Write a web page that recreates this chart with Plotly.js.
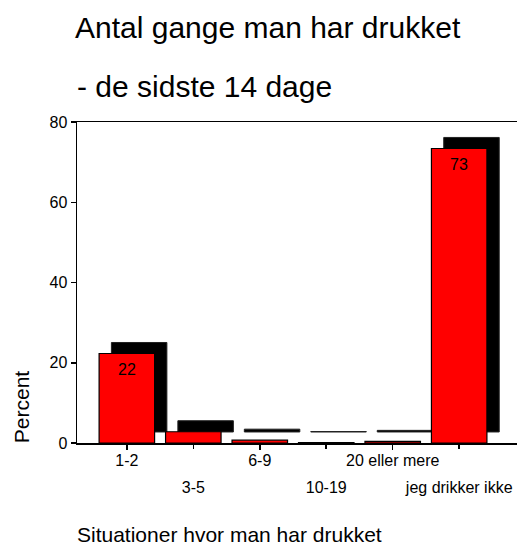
<!DOCTYPE html>
<html>
<head>
<meta charset="utf-8">
<script src="https://cdn.plot.ly/plotly-3.0.1.min.js"></script>
<style>html,body{margin:0;padding:0;background:#fff;}#chart{width:517px;height:546px;}</style>
</head>
<body>
<div id="chart"></div>
<script>
const categories = ['1-2', '3-5', '6-9', '10-19', '20 eller mere', 'jeg drikker ikke'];
const percent = [22.3, 2.8, 0.7, 0.1, 0.4, 73.4];
const yTicks = [0, 20, 40, 60, 80];
const titleLine1 = 'Antal gange man har drukket';
const titleLine2 = '- de sidste 14 dage';
const xTitle = 'Situationer hvor man har drukket';
const yTitle = 'Percent';

const xIdx = categories.map((c, i) => i);
const row1 = xIdx.filter(i => i % 2 === 0);
const row2 = xIdx.filter(i => i % 2 === 1);
const FONT = 'Liberation Sans, Arial, sans-serif';
const BW = 0.835, SHIFT = 0.185, DEPTH = 2.75;

const shadow = {
  type: 'bar', x: xIdx, y: percent, base: DEPTH,
  width: BW, offset: -BW / 2 + SHIFT,
  marker: {color: '#000', line: {color: '#222', width: 1}},
  hoverinfo: 'skip', showlegend: false
};
const bars = {
  type: 'bar', x: xIdx, y: percent,
  width: BW, offset: -BW / 2,
  marker: {color: '#ff0000', line: {color: '#000', width: 1.2}},
  hoverinfo: 'skip', showlegend: false
};

const valueLabels = xIdx.filter(i => percent[i] >= 10).map(i => ({
  text: String(Math.round(percent[i])), xref: 'x', yref: 'y',
  x: i, y: percent[i], xanchor: 'center', yanchor: 'middle', yshift: -16,
  showarrow: false, font: {family: FONT, size: 16, color: '#000'}
}));

const layout = {
  width: 517, height: 546,
  margin: {l: 77, r: 0, t: 122, b: 103, pad: 0},
  paper_bgcolor: '#fff', plot_bgcolor: '#fff',
  barmode: 'overlay',
  font: {family: FONT, color: '#000'},
  title: {text: titleLine1, font: {family: FONT, size: 30, color: '#000'},
    xref: 'container', x: 75 / 517, xanchor: 'left',
    yref: 'container', y: 1 - 27 / 546, yanchor: 'middle'},
  xaxis: {
    range: [-0.75, 5.87], tickmode: 'array', tickvals: row1,
    ticktext: row1.map(i => categories[i]),
    ticks: 'outside', ticklen: 5, tickwidth: 1.5, tickcolor: '#000',
    showline: true, linewidth: 1.5, linecolor: '#000', mirror: true,
    showgrid: false, zeroline: false, fixedrange: true,
    ticklabelstandoff: -3,
    tickfont: {family: FONT, size: 16, color: '#000'}
  },
  xaxis2: {
    overlaying: 'x', anchor: 'y', side: 'bottom',
    range: [-0.75, 5.87], tickmode: 'array', tickvals: row2,
    ticktext: row2.map(i => categories[i]),
    ticks: 'outside', ticklen: 5, tickwidth: 1.5, tickcolor: '#000',
    showline: false, showgrid: false, zeroline: false, fixedrange: true,
    ticklabelstandoff: 25,
    tickfont: {family: FONT, size: 16, color: '#000'}
  },
  yaxis: {
    range: [0, 80], tickmode: 'array', tickvals: yTicks,
    ticks: 'outside', ticklen: 5, tickwidth: 1.5, tickcolor: '#000',
    showline: true, linewidth: 1.5, linecolor: '#000',
    showgrid: false, zeroline: false, fixedrange: true,
    tickfont: {family: FONT, size: 16, color: '#000'}
  },
  annotations: [
    {text: titleLine2, xref: 'paper', yref: 'paper', x: -2 / 440, xanchor: 'left',
     y: (443.3 - 86) / 321.6, yanchor: 'middle', showarrow: false,
     font: {family: FONT, size: 30, color: '#000'}},
    {text: xTitle, xref: 'paper', yref: 'paper', x: -2 / 440, xanchor: 'left',
     y: (443.3 - 535) / 321.6, yanchor: 'middle', showarrow: false,
     font: {family: FONT, size: 21, color: '#000'}},
    {text: yTitle, xref: 'paper', yref: 'paper', x: (21.7 - 77) / 440, xanchor: 'center',
     y: (443.3 - 406.7) / 321.6, yanchor: 'middle', textangle: -90, showarrow: false,
     font: {family: FONT, size: 21, color: '#000'}}
  ].concat(valueLabels)
};

// invisible trace to activate xaxis2
const dummy = {type: 'scatter', x: [0], y: [0], xaxis: 'x2', mode: 'markers',
  marker: {opacity: 0}, hoverinfo: 'skip', showlegend: false};

Plotly.newPlot('chart', [shadow, bars, dummy], layout, {displayModeBar: false, staticPlot: true});
</script>
</body>
</html>
